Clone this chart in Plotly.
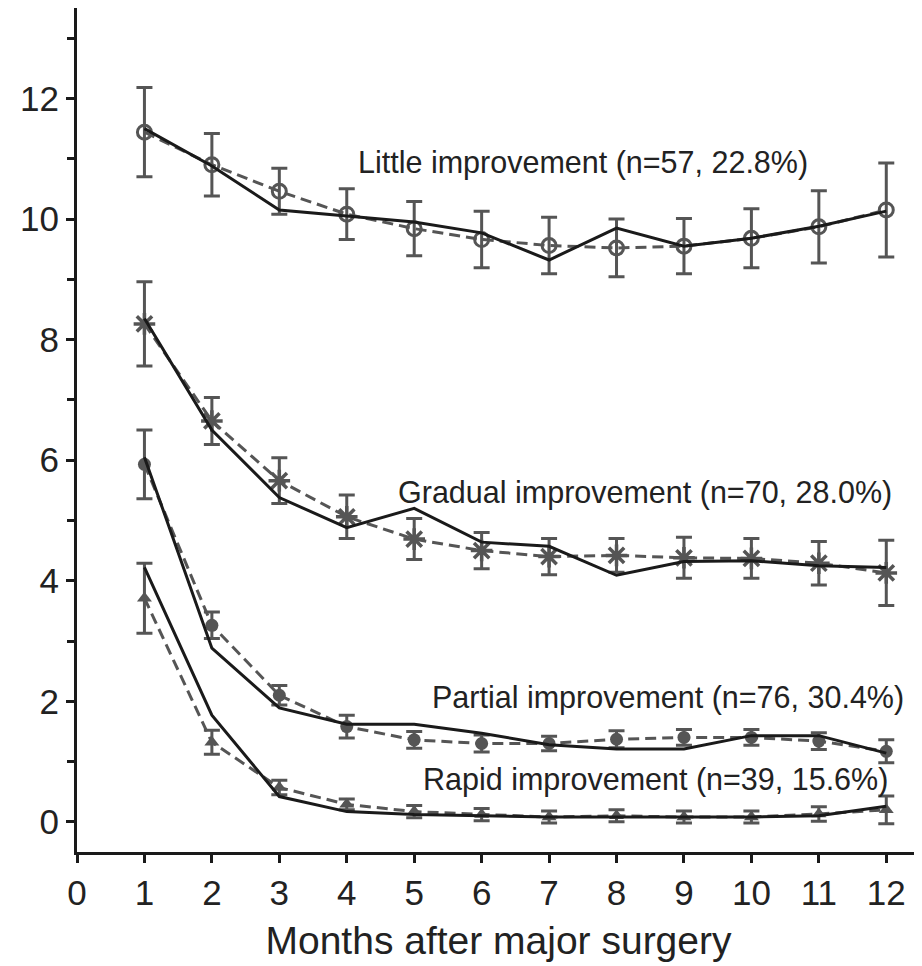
import plotly.graph_objects as go

months = list(range(1, 13))

little_obs = [11.44, 10.90, 10.46, 10.08, 9.84, 9.66, 9.56, 9.52, 9.55, 9.68, 9.87, 10.15]
little_err = [0.74, 0.52, 0.38, 0.42, 0.45, 0.47, 0.47, 0.48, 0.46, 0.49, 0.60, 0.78]
little_pred = [11.50, 10.88, 10.15, 10.05, 9.95, 9.77, 9.32, 9.85, 9.55, 9.68, 9.88, 10.13]

gradual_obs = [8.26, 6.65, 5.66, 5.06, 4.69, 4.50, 4.40, 4.42, 4.38, 4.37, 4.29, 4.13]
gradual_err = [0.70, 0.39, 0.38, 0.36, 0.34, 0.30, 0.30, 0.28, 0.34, 0.33, 0.36, 0.54]
gradual_pred = [8.35, 6.50, 5.38, 4.88, 5.20, 4.64, 4.57, 4.09, 4.32, 4.33, 4.25, 4.22]

partial_obs = [5.93, 3.26, 2.10, 1.58, 1.36, 1.30, 1.30, 1.37, 1.40, 1.40, 1.34, 1.17]
partial_err = [0.57, 0.22, 0.16, 0.19, 0.14, 0.14, 0.12, 0.14, 0.13, 0.13, 0.14, 0.19]
partial_pred = [6.05, 2.88, 1.89, 1.62, 1.62, 1.47, 1.28, 1.21, 1.21, 1.43, 1.43, 1.14]

rapid_obs = [3.71, 1.32, 0.57, 0.29, 0.17, 0.12, 0.08, 0.10, 0.08, 0.08, 0.13, 0.20]
rapid_err = [0.58, 0.20, 0.12, 0.09, 0.10, 0.10, 0.10, 0.10, 0.10, 0.10, 0.12, 0.23]
rapid_pred = [4.22, 1.77, 0.42, 0.17, 0.12, 0.10, 0.08, 0.08, 0.08, 0.08, 0.10, 0.26]

labels = ["Little improvement (n=57, 22.8%)",
          "Gradual improvement (n=70, 28.0%)",
          "Partial improvement (n=76, 30.4%)",
          "Rapid improvement (n=39, 15.6%)"]
label_x = [7.5, 8.42, 8.76, 8.58]
label_y = [10.93, 5.47, 2.07, 0.70]

x_title = "Months after major surgery"

GRAY = "#555555"
BLACK = "#1a1a1a"

series = [
    (little_obs, little_err, little_pred, dict(symbol="circle-open", size=14, color=GRAY, line=dict(width=3, color=GRAY))),
    (gradual_obs, gradual_err, gradual_pred, dict(symbol="asterisk-open", size=18, color=GRAY, line=dict(width=3.5, color=GRAY))),
    (partial_obs, partial_err, partial_pred, dict(symbol="circle", size=13, color=GRAY)),
    (rapid_obs, rapid_err, rapid_pred, dict(symbol="triangle-up", size=13, color=GRAY)),
]

fig = go.Figure()
for obs, err, pred, mk in series:
    fig.add_trace(go.Scatter(
        x=months, y=obs, mode="lines+markers",
        line=dict(color=GRAY, width=3, dash="11px,6px"),
        marker=mk,
        error_y=dict(type="data", array=err, visible=True, color=GRAY, thickness=3, width=8),
        showlegend=False,
    ))
    fig.add_trace(go.Scatter(
        x=months, y=pred, mode="lines",
        line=dict(color=BLACK, width=3),
        showlegend=False,
    ))

for txt, lx, ly in zip(labels, label_x, label_y):
    fig.add_annotation(x=lx, y=ly, text=txt, showarrow=False, xanchor="center", yanchor="middle",
                       font=dict(family="Liberation Sans, Arial", size=30.5, color="#222222"))

# page body has an 8px default margin, so the figure is sized to fit the 922x966 window
fig.update_layout(
    width=914, height=958,
    margin=dict(l=69, r=2, t=0, b=114),
    plot_bgcolor="white", paper_bgcolor="white",
    font=dict(family="Liberation Sans, Arial", color="#222222"),
)
fig.update_xaxes(
    range=[0, 12.5], tickmode="linear", tick0=0, dtick=1, automargin=False,
    showgrid=False, zeroline=False,
    showline=True, linecolor=BLACK, linewidth=3,
    ticks="outside", ticklen=8, tickwidth=3, tickcolor=BLACK,
    tickfont=dict(size=35, color="#222222"),
    title=dict(text=x_title, font=dict(size=39, color="#222222"), standoff=16),
)
fig.update_yaxes(
    range=[-0.5, 13.5], tickmode="linear", tick0=0, dtick=2, automargin=False,
    showgrid=False, zeroline=False,
    showline=True, linecolor=BLACK, linewidth=3,
    ticks="outside", ticklen=8, tickwidth=3, tickcolor=BLACK,
    tickfont=dict(size=35, color="#222222"),
    minor=dict(tick0=0, dtick=1, ticks="outside", ticklen=7, tickwidth=3, tickcolor=BLACK, showgrid=False),
)

fig.write_html("out.html")
